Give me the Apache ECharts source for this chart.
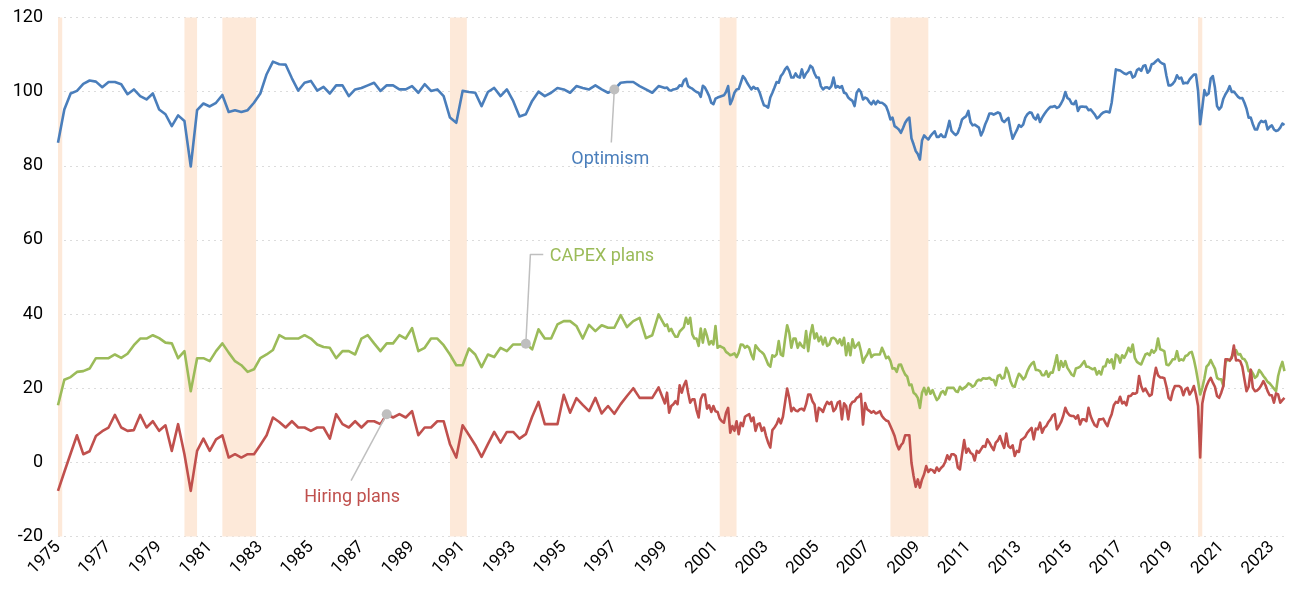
<!DOCTYPE html>
<html>
<head>
<meta charset="utf-8">
<title>NFIB: optimism, CAPEX plans, hiring plans</title>
<script src="https://cdn.jsdelivr.net/npm/echarts/dist/echarts.min.js"></script>
<style>
	html, body { margin: 0; padding: 0; background: #fff; }
	#main { width: 1291px; height: 593px; }
</style>
</head>
<body>
<div id="main"></div>
<script>
// x positions are years after 1975 (keeps ticks on 1975, 1977, ...)
var BASE_YEAR = 1975;

// quarterly readings 1975Q1 - 1998Q4
var optimismQ = [
	86.2, 95.2, 99.5, 100.2,  102.1, 103, 102.7, 101.2,  102.6, 102.6, 102, 99.3,  100.6, 98.8, 97.9, 99.5,
	95.2, 93.9, 90.7, 93.6,  92.1, 79.8, 95, 96.8,  96, 97, 99.1, 94.5,  95, 94.5, 95, 97,
	99.5, 104.7, 108.1, 107.4,  107.3, 103.6, 100.3, 102.4,  102.9, 100.3, 101.3, 99.5,  101.7, 101.7, 98.8, 100.6,
	101, 101.7, 102.4, 100.2,  101.7, 101.7, 100.6, 100.6,  101.5, 99.7, 102, 100.2,  100.6, 98.8, 93, 91.6,
	100.2, 99.9, 99.7, 96.1,  99.9, 101, 98.8, 100.6,  97.5, 93.3, 93.9, 97.5,  100, 98.8, 99.7, 101,
	100.6, 99.7, 101.5, 101,  100.6, 101.7, 100.6, 99.7,  100.6, 102.4, 102.6, 102.6,  101.5, 100.6, 99.7, 101.5
];
var capexQ = [
	15.4, 22.3, 23, 24.4,  24.6, 25.3, 28.1, 28.1,  28.1, 29.1, 28.2, 29.3,  31.6, 33.4, 33.4, 34.3,
	33.5, 32.3, 32.1, 28.1,  30, 19.2, 28.1, 28.1,  27.3, 30, 32.1, 29.6,  27.3, 26.2, 24.4, 25.1,
	28.1, 29.1, 30.3, 34.3,  33.4, 33.4, 33.4, 34.3,  33.4, 31.8, 31.1, 30.9,  28.1, 30, 30, 29.1,
	33.4, 34.3, 32.1, 30,  32.1, 32.1, 34.3, 33.4,  36.2, 30, 30.9, 33.4,  33.4, 31.6, 29.1, 26.2,
	26.2, 30.7, 29.1, 25.7,  29.1, 28.4, 30.9, 30,  31.8, 31.8, 32, 30.5,  35.9, 33.4, 33.4, 37.2,
	38.1, 38.1, 36.8, 33.4,  37.1, 35.4, 37, 36.3,  36.3, 39.7, 36.5, 38.1,  39, 33.5, 34.3, 39.9
];
var hiringQ = [
	-7.7, -2.6, 2.4, 7.3,  2.2, 3, 7.1, 8.4,  9.4, 12.8, 9.4, 8.5,  8.7, 12.8, 9.4, 11.1,
	8.5, 10, 3.1, 10.3,  2.2, -7.7, 3.1, 6.4,  3.1, 6.2, 7.3, 1.3,  2.2, 1.3, 2.2, 2.2,
	4.7, 7.3, 12.1, 10.9,  9.4, 11.1, 9.4, 9.4,  8.5, 9.4, 9.4, 6.4,  13, 10.3, 9.4, 11.1,
	9.4, 11.1, 11.1, 10.3,  13, 12.1, 13, 12.1,  13.8, 7.3, 9.4, 9.4,  11.1, 11.1, 4.9, 1.3,
	10, 7.4, 4.7, 1.5,  4.9, 8.2, 5.3, 8.2,  8.2, 6.4, 7.6, 12.3,  16.3, 10.3, 10.3, 10.3,
	18.2, 13.4, 17.3, 15.5,  13.8, 17.4, 13.2, 15.2,  13.1, 15.7, 17.9, 20,  17.4, 17.4, 17.4, 20.2
];

// monthly readings Jan 1999 - Jul 2023, one line per year
var optimismM = [
	101.0, 101.1, 100.4, 100.3, 100.6, 100.7, 100.9, 101.7, 101.5, 103.0, 103.5, 101.5,
	101.1, 100.8, 100.3, 99.9, 99.7, 98.6, 101.6, 101.1, 100.0, 98.8, 97.0, 96.6,
	98.1, 98.4, 98.6, 98.8, 99.0, 99.9, 101.5, 96.6, 97.9, 99.7, 100.6, 100.7,
	102.4, 104.2, 103.5, 102.4, 101.5, 100.6, 101.3, 100.8, 100.9, 99.7, 97.9, 96.3,
	96.1, 95.7, 98.4, 99.7, 101.1, 102.6, 102.4, 104.2, 104.9, 106.0, 106.7, 105.6,
	103.8, 103.8, 104.9, 104.0, 103.8, 106.0, 103.8, 104.9, 105.6, 107.0, 106.5, 104.9,
	103.8, 103.8, 101.5, 100.6, 101.1, 101.2, 100.8, 101.5, 103.8, 101.1, 101.5, 101.1,
	101.5, 99.7, 99.5, 98.4, 97.9, 97.5, 96.1, 99.7, 100.6, 99.9, 97.9, 98.4,
	98.1, 97.2, 96.6, 97.5, 96.6, 97.5, 97.0, 97.0, 96.6, 96.0, 94.5, 92.5,
	93.0, 90.7, 90.3, 89.8, 88.9, 90.2, 91.6, 92.5, 93.0, 87.4, 85.8, 84.0,
	83.2, 81.7, 86.8, 88.2, 87.6, 87.1, 88.0, 88.7, 89.3, 87.8, 87.8, 88.5,
	87.8, 87.8, 89.8, 92.1, 89.4, 88.8, 88.3, 88.9, 90.5, 92.5, 93.0, 93.4,
	94.8, 91.8, 90.9, 91.1, 90.7, 90.3, 88.2, 89.4, 91.2, 92.5, 94.1, 94.1,
	93.8, 94.1, 94.4, 94.1, 92.3, 91.8, 92.4, 92.9, 89.8, 87.3, 88.5, 89.6,
	91.0, 90.5, 91.1, 93.0, 93.9, 94.4, 94.3, 93.0, 92.5, 93.8, 91.8, 93.0,
	93.9, 94.7, 95.4, 95.9, 95.9, 96.1, 95.6, 95.9, 96.8, 97.9, 99.9, 98.3,
	97.9, 96.8, 96.6, 97.5, 94.8, 95.9, 96.0, 95.9, 95.9, 95.0, 95.2, 94.5,
	93.8, 92.8, 93.2, 93.9, 94.4, 94.6, 94.6, 94.4, 97.0, 101.5, 106.0, 105.8,
	105.7, 105.3, 104.9, 104.7, 105.1, 105.3, 103.8, 104.2, 105.8, 106.2, 105.6, 106.9,
	107.1, 105.1, 105.7, 107.4, 107.6, 108.2, 108.7, 108.0, 107.6, 107.4, 104.2, 101.7,
	101.7, 102.1, 102.9, 104.4, 103.5, 103.8, 102.2, 102.4, 102.3, 103.3, 104.0, 104.6,
	104.6, 100.2, 91.2, 95.7, 100.4, 99.0, 99.5, 103.5, 104.2, 101.1, 96.1, 95.2,
	95.9, 98.1, 99.3, 100.2, 101.5, 99.9, 100.0, 99.3, 98.6, 98.2, 98.3, 97.0,
	95.4, 93.0, 93.0, 91.2, 89.8, 89.8, 91.4, 92.1, 91.8, 92.1, 89.8, 90.5,
	90.9, 89.8, 89.4, 89.6, 90.3, 91.4, 91.0
];
var capexM = [
	36.8, 37.2, 35.4, 36, 34.8, 33.9, 33.9, 35.3, 35.9, 36.5, 39, 37.4,
	39, 34.5, 33.4, 33.4, 31.4, 36.1, 32.3, 35.9, 34.1, 31.8, 32.7, 31.8,
	36.8, 30.9, 31.4, 31.1, 30.8, 29.8, 29.4, 28.9, 29.1, 29.4, 28.4, 29.6,
	31.8, 31.7, 30.9, 31.4, 30.9, 29.1, 27.8, 31.6, 30.8, 30.1, 29.7, 29.1,
	27.8, 26.4, 25.8, 28.9, 28.5, 29.1, 32.7, 29.1, 28.7, 33.2, 37, 35,
	30.9, 33.4, 33.4, 30.9, 32.3, 31.4, 30.9, 35.4, 30, 34.5, 37, 33.4,
	34.8, 32.7, 33.9, 31.8, 33.6, 31.4, 31.8, 33.4, 33.6, 33.2, 32.1, 33.2,
	31.6, 33.6, 28.9, 32.1, 28.9, 33.2, 30.9, 31.6, 32.3, 30, 26.9, 28.2,
	29.1, 30.5, 28.4, 29, 29.1, 29.1, 29.1, 30.9, 29.6, 28.1, 28.5, 27.4,
	25.3, 25.4, 24.4, 26.3, 26.4, 24.9, 23.7, 23.1, 20.8, 21, 18.8, 18.3,
	17.4, 14.7, 18.8, 20.1, 18.3, 20.1, 18.5, 19.5, 18.1, 16.8, 17.4, 18.8,
	19.2, 18.3, 20.1, 20.1, 20.1, 20.1, 19.2, 19, 20.4, 19.7, 20.1, 20.5,
	21.3, 21, 20.4, 20.8, 21.9, 22.3, 22.1, 22.7, 22.6, 22.6, 22.8, 22.3,
	22.2, 20.8, 23.3, 23.6, 22.6, 22.8, 25.5, 24.2, 21.9, 20.6, 20.4, 22.4,
	23.9, 23.3, 22.4, 23, 24.6, 25.8, 26.6, 27.1, 24.9, 24.9, 24.6, 23.5,
	23.5, 24.6, 23.1, 24.2, 24.2, 26.4, 28.9, 24.9, 27.3, 25.8, 27.3, 25.5,
	24.6, 23.7, 23.3, 25.3, 25.5, 25.8, 26.5, 27.3, 25.8, 25.8, 25.4, 25.1,
	25.4, 23.7, 24.6, 23.7, 25.8, 25.9, 27.8, 26.9, 27.8, 25.3, 29.1, 28.7,
	26.9, 28.9, 28.2, 29.4, 30.9, 29.8, 31.8, 28.2, 27.1, 26.7, 26.4, 27.8,
	29.1, 29.4, 28.9, 30.3, 29.6, 30.3, 33.4, 30.5, 30.3, 30, 26.4, 26.2,
	26.9, 27.8, 27.8, 30, 27.4, 27.8, 27.5, 28.7, 28.9, 29.6, 29.8, 27.8,
	25.1, 21.9, 18.3, 20.1, 22.6, 25.8, 26.4, 27.6, 26.4, 25.3, 22.8, 22.4,
	22.4, 20.6, 26.9, 27.8, 27.4, 28.5, 29.4, 30.3, 29.1, 29.2, 28, 27.8,
	26.9, 24.6, 24.9, 24, 22.8, 23.3, 24.9, 24.2, 23.3, 22.6, 21.7, 21.3,
	20.6, 19.9, 19.2, 23.3, 25.5, 27.1, 24.6
];
var hiringM = [
	15.9, 18.8, 13.4, 15.2, 15.7, 16.5, 15.7, 20.8, 18.8, 20.8, 22, 18.8,
	16.1, 17, 17, 14.1, 12.1, 17, 18.3, 18.3, 14.5, 15.4, 13.6, 15.2,
	13.8, 13.6, 11.8, 11.1, 10.7, 13.4, 14.7, 8, 9.8, 8.5, 11.1, 7.6,
	10.7, 9.8, 12.3, 12.7, 13, 11.1, 12.1, 8.5, 10.3, 10.5, 8.5, 9.4,
	7.1, 5.3, 4, 8.7, 9.4, 10.3, 11.8, 10.5, 12.3, 16.1, 19.9, 17.4,
	13.8, 14.7, 14, 13.8, 14.3, 14.5, 14, 15.7, 18.3, 18.3, 16.5, 15.6,
	11.1, 14.7, 14.3, 13.6, 15.2, 16.3, 15.7, 16.3, 13.8, 14.5, 16.1, 16.5,
	11.6, 15.9, 15.2, 11.6, 15.4, 16.3, 16.5, 17.4, 17.7, 18.5, 10.2, 16,
	14.3, 13.9, 13.4, 13.8, 13.2, 13.4, 13.8, 12.5, 11.8, 11.3, 11.1, 9.8,
	8.5, 7.1, 4.9, 3.5, 4.6, 5.3, 7.3, 7.3, 7.3, -0.1, -3.7, -6.6,
	-4.6, -6.8, -4.6, -3.2, -1, -2.6, -1.9, -2.1, -2.8, -1.4, -2.3, -1.5,
	-1, 0.1, 1.9, 0.8, 2.2, 2.2, 1.7, -1.4, -1.9, 2.2, 6, 2.6,
	3.7, 2.6, 2.2, 0.5, 3.1, 2.6, 3.5, 4.4, 4.2, 6.2, 5.3, 4.2,
	3.3, 5.3, 5.9, 7.1, 5.3, 3.9, 7.8, 4.4, 3.9, 4.6, 1.7, 3.1,
	2.8, 6, 6.4, 6.9, 8, 8.7, 9.3, 6.2, 9.1, 8.9, 10.7, 8,
	9.3, 9.8, 10.9, 11.6, 12.7, 13, 8.9, 9.8, 10.9, 12.5, 14.7, 13.4,
	12.7, 12.5, 12.5, 11.8, 12.7, 10.2, 11.6, 11.6, 11.1, 14.7, 12.5, 11.1,
	10, 9.6, 11.6, 11.6, 11.8, 10.7, 9.8, 11.6, 13, 15.4, 16.3, 16.1,
	17.7, 15.9, 16.3, 15.4, 17.9, 17.9, 18.6, 18.5, 18.8, 23.3, 20.6, 19.2,
	19.9, 18.8, 17.9, 18.3, 22.4, 25.5, 23.5, 22.9, 22.9, 22.7, 20.4, 17.4,
	16.8, 19.2, 20.6, 20.6, 20.6, 20.1, 18.1, 19.7, 20.1, 18.3, 19.2, 20.6,
	18.3, 15.2, 1.3, 15.9, 18.8, 20.6, 21.9, 22.8, 21.5, 20.4, 17.9, 17.4,
	18.8, 20.6, 27.8, 27.8, 27.5, 28.2, 31.5, 27.5, 27.6, 27.3, 25.8, 22.4,
	19.2, 20.4, 25, 20.1, 19.2, 19.4, 19.9, 20.8, 21.9, 20.8, 19.2, 18.1,
	18.1, 16.1, 18.6, 18.3, 16.1, 16.8, 17.4
];

// recessions, [start, end] as decimal years
var recessions = [
	[1973.833, 1975.167],
	[1980.0, 1980.5],
	[1981.5, 1982.833],
	[1990.5, 1991.167],
	[2001.167, 2001.833],
	[2007.917, 2009.417],
	[2020.083, 2020.25]
];

var yMin = -20, yMax = 120, yStep = 20;
var xMaxYear = 2023.6;

// callouts: dot on the line, leader path, label spot
var notes = [
	{ text: 'Optimism', color: '#4a7ebb', dot: [1997.0, 100.6], path: [[1997.0, 100.6], [1996.88, 86.3]], at: [1996.84, 81.7], pos: 'inside' },
	{ text: 'CAPEX plans', color: '#9bbb59', dot: [1993.5, 32], path: [[1993.5, 32], [1993.68, 56.1], [1994.19, 56.1]], at: [1994.45, 55.4], pos: 'right' },
	{ text: 'Hiring plans', color: '#c0504d', dot: [1988.0, 13], path: [[1988.0, 13], [1986.59, -4.9]], at: [1986.63, -9.4], pos: 'inside' }
];

$ready(function(){
	initPage();
});

function $ready(fn){
	if (document.readyState !== 'loading') fn();
	else document.addEventListener('DOMContentLoaded', fn);
}

/**
 * init
 */
function initPage(){
	buildEchart();
}

// quarterly then monthly points -> [yearsAfterBase, value]
function buildSeriesData(quarterVals, monthVals){
	var out = [];
	for (var i = 0; i < quarterVals.length; i++) {
		out.push([i / 4, quarterVals[i]]);
	}
	for (var j = 0; j < monthVals.length; j++) {
		out.push([1999 - BASE_YEAR + j / 12, monthVals[j]]);
	}
	return out;
}

function toX(year){
	return year - BASE_YEAR;
}

function buildEchart(){
	var myChart = echarts.init(document.getElementById('main'), null, { renderer: 'canvas' });
	var font = 'Roboto, "Liberation Sans", sans-serif';

	var bands = [];
	for (var i = 0; i < recessions.length; i++) {
		bands.push([
			{ xAxis: Math.max(0, toX(recessions[i][0])) },
			{ xAxis: toX(recessions[i][1]) }
		]);
	}

	var series = [{
		// recession shading only
		type: 'line',
		data: [],
		silent: true,
		z: 1,
		markArea: {
			silent: true,
			itemStyle: { color: '#fde9d9' },
			data: bands
		}
	}];

	var lines = [
		{ name: 'Optimism', color: '#4a7ebb', data: buildSeriesData(optimismQ, optimismM) },
		{ name: 'CAPEX plans', color: '#9bbb59', data: buildSeriesData(capexQ, capexM) },
		{ name: 'Hiring plans', color: '#c0504d', data: buildSeriesData(hiringQ, hiringM) }
	];
	for (var k = 0; k < lines.length; k++) {
		series.push({
			name: lines[k].name,
			type: 'line',
			data: lines[k].data,
			showSymbol: false,
			silent: true,
			z: 3,
			lineStyle: { color: lines[k].color, width: 2.6, join: 'round' }
		});
	}

	for (var n = 0; n < notes.length; n++) {
		var nt = notes[n];
		series.push({
			type: 'line',
			data: nt.path.map(function(p){ return [toX(p[0]), p[1]]; }),
			showSymbol: false,
			silent: true,
			z: 4,
			lineStyle: { color: '#bfbfbf', width: 1.5 }
		});
		series.push({
			type: 'scatter',
			data: [[toX(nt.dot[0]), nt.dot[1]]],
			symbolSize: 10,
			silent: true,
			z: 5,
			itemStyle: { color: '#bfbfbf', opacity: 1 }
		});
		series.push({
			type: 'scatter',
			data: [[toX(nt.at[0]), nt.at[1]]],
			symbolSize: 0,
			silent: true,
			z: 5,
			itemStyle: { opacity: 1 },
			label: {
				show: true,
				position: nt.pos,
				distance: 0,
				formatter: nt.text,
				color: nt.color,
				opacity: 1,
				fontFamily: font,
				fontSize: 18
			}
		});
	}

	var option = {
		animation: false,
		backgroundColor: '#fff',
		grid: { left: 58, right: 4, top: 17.5, bottom: 56.5, containLabel: false },
		xAxis: {
			type: 'value',
			min: 0,
			max: toX(xMaxYear),
			interval: 2,
			axisLine: { show: false },
			axisTick: { show: false },
			splitLine: { show: false },
			axisLabel: {
				rotate: 45,
				margin: 8,
				showMaxLabel: false,
				color: '#000',
				fontFamily: font,
				fontSize: 17,
				formatter: function(v){ return String(BASE_YEAR + Math.round(v)); }
			}
		},
		yAxis: {
			type: 'value',
			min: yMin,
			max: yMax,
			interval: yStep,
			axisLine: { show: false },
			axisTick: { show: false },
			axisLabel: { margin: 15, color: '#000', fontFamily: font, fontSize: 18 },
			splitLine: { lineStyle: { color: '#dcdcdc', width: 1, type: [2, 4] } }
		},
		series: series
	};

	myChart.setOption(option);
}
</script>
</body>
</html>
